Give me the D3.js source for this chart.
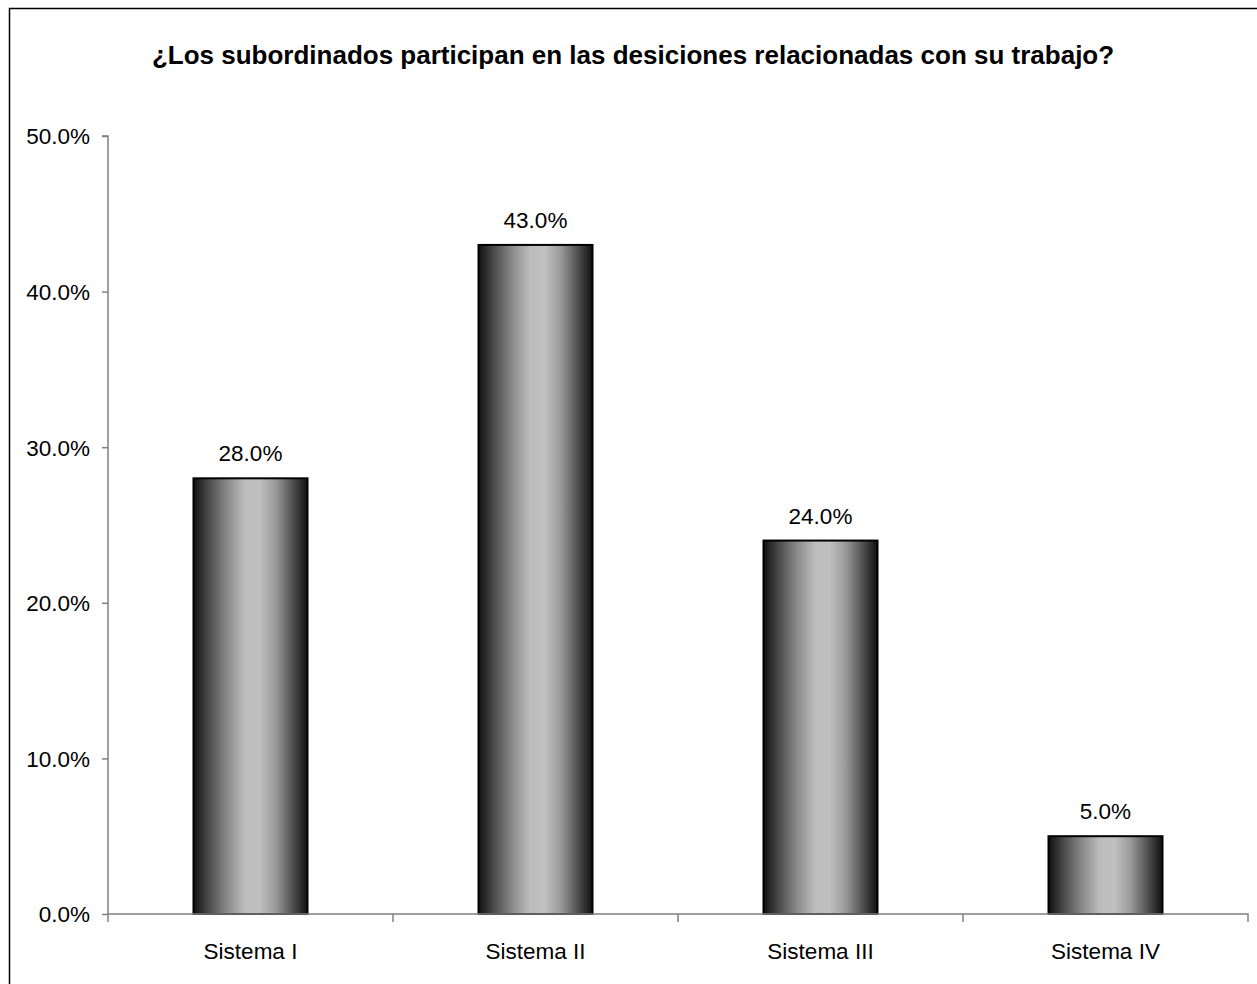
<!DOCTYPE html>
<html><head><meta charset="utf-8">
<script src="https://cdn.jsdelivr.net/npm/d3@7"></script>
<style>body{margin:0;background:#fff}svg{display:block}text{font-family:"Liberation Sans",Arial,sans-serif}</style>
</head><body>
<script>
const title = "¿Los subordinados participan en las desiciones relacionadas con su trabajo?";
const categories = ["Sistema I","Sistema II","Sistema III","Sistema IV"];
const values = [0.28,0.43,0.24,0.05];
const yTicks = [0,0.1,0.2,0.3,0.4,0.5];

const W=1257,H=984;
const FS=22.5;
const svg=d3.select("body").append("svg").attr("width",W).attr("height",H);
svg.append("rect").attr("x",9.5).attr("y",8.5).attr("width",W).attr("height",H).attr("fill","#fff").attr("stroke","#000").attr("stroke-width",1.5);

const defs=svg.append("defs");
const g=defs.append("linearGradient").attr("id","bg").attr("x1","0").attr("x2","1").attr("y1","0").attr("y2","0");
[[0,"#101010"],[0.12,"#444"],[0.3,"#8c8c8c"],[0.45,"#bcbcbc"],[0.58,"#c0c0c0"],[0.72,"#9a9a9a"],[0.86,"#555"],[1,"#101010"]]
 .forEach(([o,c])=>g.append("stop").attr("offset",o).attr("stop-color",c));

const L=108,R=1248,T=136,B=914;
const x=d3.scaleBand().domain(categories).range([L,R]).paddingInner(0.6).paddingOuter(0.3);
const xb=d3.scaleBand().domain(categories).range([L,R]);
const y=d3.scaleLinear().domain([0,0.5]).range([B,T]);

svg.append("text").attr("x",633).attr("y",64).attr("text-anchor","middle")
 .attr("font-size",26).attr("font-weight","bold").text(title);

// y axis
const ya=svg.append("g").attr("transform",`translate(${L},0)`)
 .call(d3.axisLeft(y).tickValues(yTicks).tickFormat(d3.format(".1%")).tickSize(6).tickPadding(12));
ya.select(".domain").attr("stroke","#808080").attr("stroke-width",1.5).attr("d",`M-6,${T}H0V${B}`);
ya.selectAll(".tick line").attr("stroke","#808080").attr("stroke-width",1.5);
ya.selectAll("text").attr("font-size",FS).attr("fill","#000").attr("dy","0.35em").attr("font-family","Liberation Sans, Arial, sans-serif");

// bars
svg.selectAll("rect.bar").data(values).join("rect").attr("class","bar")
 .attr("x",(d,i)=>x(categories[i])).attr("width",x.bandwidth())
 .attr("y",d=>y(d)).attr("height",d=>B-y(d))
 .attr("fill","url(#bg)").attr("stroke","#000").attr("stroke-width",2);

// x axis
const xa=svg.append("g").attr("transform",`translate(0,${B})`)
 .call(d3.axisBottom(xb).tickSize(0).tickPadding(29));
xa.select(".domain").attr("stroke","#808080").attr("stroke-width",1.5).attr("d",`M${L},0H${R}V8`);
xa.selectAll("text").attr("font-size",FS).attr("fill","#000").attr("font-family","Liberation Sans, Arial, sans-serif");
categories.forEach((c,i)=>{ if(i>0) xa.append("line").attr("x1",xb(c)).attr("x2",xb(c)).attr("y1",0).attr("y2",8).attr("stroke","#808080").attr("stroke-width",1.5); });
xa.append("line").attr("x1",L).attr("x2",L).attr("y1",0).attr("y2",8).attr("stroke","#808080").attr("stroke-width",1.5);

// labels
svg.selectAll("text.lbl").data(values).join("text").attr("class","lbl")
 .attr("x",(d,i)=>x(categories[i])+x.bandwidth()/2).attr("y",d=>y(d)-17)
 .attr("text-anchor","middle").attr("font-size",FS).text(d=>d3.format(".1%")(d));
</script>
</body></html>
